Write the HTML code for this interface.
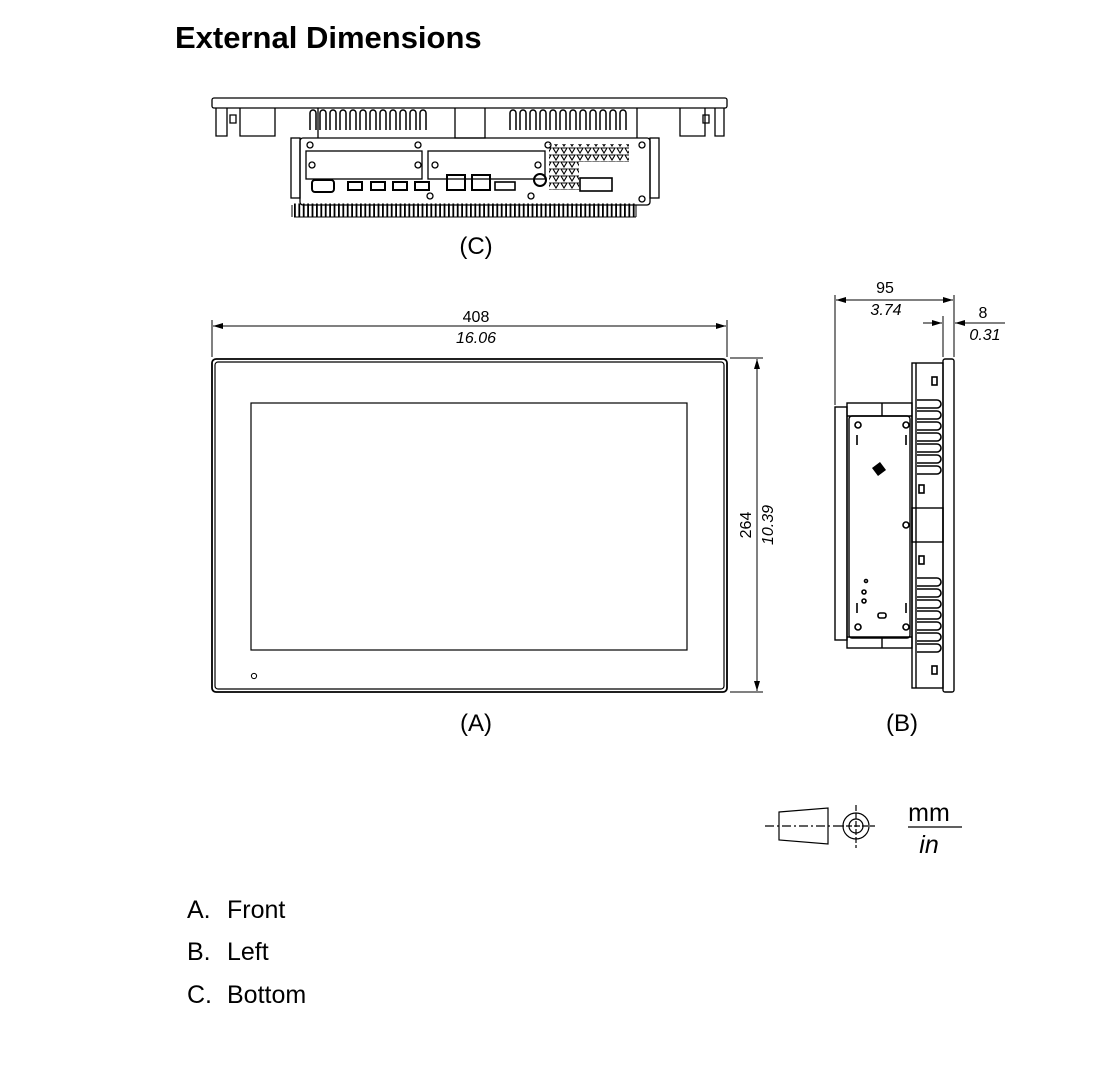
<!DOCTYPE html>
<html><head><meta charset="utf-8"><style>
body{margin:0;background:#fff;}
svg{display:block;font-family:"Liberation Sans",Arial,sans-serif;}
</style></head><body>
<svg width="1100" height="1076" viewBox="0 0 1100 1076" xmlns="http://www.w3.org/2000/svg">
<defs>
<marker id="ar" viewBox="0 0 10 6" refX="10" refY="3" markerWidth="10" markerHeight="6" orient="auto-start-reverse" markerUnits="userSpaceOnUse"><path d="M0,0 L10,3 L0,6 z" fill="#000"/></marker>
<pattern id="tri" width="8" height="7" patternUnits="userSpaceOnUse"><path d="M1,1 L7,1 L4,6 Z" fill="none" stroke="#000" stroke-width="1.1"/></pattern>
</defs>
<text x="175" y="48" font-size="31" font-weight="bold">External Dimensions</text>

<!-- (C) bottom view -->
<g fill="none" stroke="#000" stroke-width="1.3">
<rect x="212" y="98" width="515" height="10" rx="2"/>
<path d="M216,108 V136 H227 V108 M240,108 V136 H275 V108 M318,108 V138 M455,108 V138 H485 V108 M637,108 V138 M680,108 V136 H705 V108 M715,108 V136 H724 V108"/>
<path d="M230,115 h6 v8 h-6z M703,115 h6 v8 h-6z"/>
<rect x="300" y="138" width="350" height="67" rx="3"/>
<rect x="306" y="151" width="116" height="28"/>
<rect x="428" y="151" width="117" height="28"/>
<rect x="291" y="138" width="9" height="60"/>
<rect x="650" y="138" width="9" height="60"/>
<rect x="312" y="180" width="22" height="12" rx="3" stroke-width="2"/>
<rect x="348" y="182" width="14" height="8" stroke-width="2"/><rect x="371" y="182" width="14" height="8" stroke-width="2"/>
<rect x="393" y="182" width="14" height="8" stroke-width="2"/><rect x="415" y="182" width="14" height="8" stroke-width="2"/>
<rect x="447" y="175" width="18" height="15" stroke-width="2"/><rect x="472" y="175" width="18" height="15" stroke-width="2"/>
<rect x="495" y="182" width="20" height="8" stroke-width="1.6"/>
<circle cx="540" cy="180" r="6" stroke-width="2"/>
<rect x="580" y="178" width="32" height="13" stroke-width="1.6"/>
</g>
<rect x="549" y="144" width="80" height="18" fill="url(#tri)"/>
<rect x="549" y="162" width="30" height="28" fill="url(#tri)"/>
<g stroke="#000" stroke-width="1.5" fill="none">
<path d="M310,130 v-17 a3,3 0 0 1 6,0 v17 M320,130 v-17 a3,3 0 0 1 6,0 v17 M330,130 v-17 a3,3 0 0 1 6,0 v17 M340,130 v-17 a3,3 0 0 1 6,0 v17 M350,130 v-17 a3,3 0 0 1 6,0 v17 M360,130 v-17 a3,3 0 0 1 6,0 v17 M370,130 v-17 a3,3 0 0 1 6,0 v17 M380,130 v-17 a3,3 0 0 1 6,0 v17 M390,130 v-17 a3,3 0 0 1 6,0 v17 M400,130 v-17 a3,3 0 0 1 6,0 v17 M410,130 v-17 a3,3 0 0 1 6,0 v17 M420,130 v-17 a3,3 0 0 1 6,0 v17"/>
<path d="M510,130 v-17 a3,3 0 0 1 6,0 v17 M520,130 v-17 a3,3 0 0 1 6,0 v17 M530,130 v-17 a3,3 0 0 1 6,0 v17 M540,130 v-17 a3,3 0 0 1 6,0 v17 M550,130 v-17 a3,3 0 0 1 6,0 v17 M560,130 v-17 a3,3 0 0 1 6,0 v17 M570,130 v-17 a3,3 0 0 1 6,0 v17 M580,130 v-17 a3,3 0 0 1 6,0 v17 M590,130 v-17 a3,3 0 0 1 6,0 v17 M600,130 v-17 a3,3 0 0 1 6,0 v17 M610,130 v-17 a3,3 0 0 1 6,0 v17 M620,130 v-17 a3,3 0 0 1 6,0 v17"/>
</g>
<path d="M292,205 v12 M636,205 v12" stroke="#000"/>
<path d="M294,210 H636" stroke="#000" stroke-width="13" stroke-dasharray="1.8,2.6" fill="none"/>
<path d="M294,217 H636" stroke="#000" stroke-width="1"/>
<g fill="none" stroke="#000" stroke-width="1.3"><circle cx="310" cy="145" r="3"/><circle cx="418" cy="145" r="3"/><circle cx="435" cy="165" r="3"/><circle cx="538" cy="165" r="3"/><circle cx="418" cy="165" r="3"/><circle cx="312" cy="165" r="3"/><circle cx="642" cy="199" r="3"/><circle cx="430" cy="196" r="3"/><circle cx="531" cy="196" r="3"/><circle cx="548" cy="145" r="3"/><circle cx="642" cy="145" r="3"/></g>
<text x="476" y="254" font-size="24" text-anchor="middle">(C)</text>

<!-- (A) front -->
<g stroke="#000" stroke-width="1" fill="none">
<line x1="212" y1="320" x2="212" y2="357"/>
<line x1="727" y1="320" x2="727" y2="357"/>
<line x1="213" y1="326" x2="726" y2="326" marker-start="url(#ar)" marker-end="url(#ar)"/>
<line x1="730" y1="358" x2="763" y2="358"/>
<line x1="730" y1="692" x2="763" y2="692"/>
<line x1="757" y1="359" x2="757" y2="691" marker-start="url(#ar)" marker-end="url(#ar)"/>
</g>
<rect x="212" y="359" width="515" height="333" rx="4" fill="none" stroke="#000" stroke-width="1.8"/>
<rect x="215" y="362" width="509" height="327" rx="3" fill="none" stroke="#000" stroke-width="1.2"/>
<rect x="251" y="403" width="436" height="247" fill="none" stroke="#000" stroke-width="1.2"/>
<circle cx="254" cy="676" r="2.6" fill="none" stroke="#000"/>
<text x="476" y="322" font-size="16" text-anchor="middle">408</text>
<text x="476" y="343" font-size="16" font-style="italic" text-anchor="middle">16.06</text>
<text transform="translate(751,525) rotate(-90)" font-size="16" text-anchor="middle">264</text>
<text transform="translate(773,525) rotate(-90)" font-size="16" font-style="italic" text-anchor="middle">10.39</text>
<text x="476" y="731" font-size="24" text-anchor="middle">(A)</text>

<!-- (B) side -->
<g stroke="#000" stroke-width="1" fill="none">
<line x1="835" y1="295" x2="835" y2="405"/>
<line x1="954" y1="295" x2="954" y2="357"/>
<line x1="943" y1="316" x2="943" y2="357"/>
<line x1="836" y1="300" x2="953" y2="300" marker-start="url(#ar)" marker-end="url(#ar)"/>
<line x1="923" y1="323" x2="942" y2="323" marker-end="url(#ar)"/>
<line x1="1005" y1="323" x2="955" y2="323" marker-end="url(#ar)"/>
</g>
<text x="885" y="293" font-size="16" text-anchor="middle">95</text>
<text x="886" y="315" font-size="16" font-style="italic" text-anchor="middle">3.74</text>
<text x="983" y="318" font-size="16" text-anchor="middle">8</text>
<text x="985" y="340" font-size="16" font-style="italic" text-anchor="middle">0.31</text>
<g stroke="#000" fill="none" stroke-width="1.4">
<rect x="943" y="359" width="11" height="333" rx="2"/>
<rect x="912" y="363" width="31" height="325"/>
<path d="M916,363 V688"/>
<rect x="847" y="403" width="65" height="245"/>
<path d="M847,416 H912 M847,637 H912 M882,403 V416 M882,637 V648"/>
<rect x="849" y="416" width="61" height="222" rx="3"/>
<rect x="835" y="407" width="12" height="233"/>
<rect x="912" y="508" width="31" height="34"/>
</g>
<g fill="none" stroke="#000" stroke-width="1.6">
<circle cx="858" cy="425" r="3"/><circle cx="906" cy="425" r="3"/><circle cx="906" cy="525" r="3"/><circle cx="858" cy="627" r="3"/><circle cx="906" cy="627" r="3"/>
<circle cx="866" cy="581" r="1.5"/><circle cx="864" cy="592" r="2"/><circle cx="864" cy="601" r="2"/>
<rect x="878" y="613" width="8" height="5" rx="2"/>
</g>
<g stroke="#000" stroke-width="1.6" fill="none">
<path d="M917,400 h20 a4,4 0 0 1 0,8 h-20 M917,411 h20 a4,4 0 0 1 0,8 h-20 M917,422 h20 a4,4 0 0 1 0,8 h-20 M917,433 h20 a4,4 0 0 1 0,8 h-20 M917,444 h20 a4,4 0 0 1 0,8 h-20 M917,455 h20 a4,4 0 0 1 0,8 h-20 M917,466 h20 a4,4 0 0 1 0,8 h-20"/>
<path d="M917,578 h20 a4,4 0 0 1 0,8 h-20 M917,589 h20 a4,4 0 0 1 0,8 h-20 M917,600 h20 a4,4 0 0 1 0,8 h-20 M917,611 h20 a4,4 0 0 1 0,8 h-20 M917,622 h20 a4,4 0 0 1 0,8 h-20 M917,633 h20 a4,4 0 0 1 0,8 h-20 M917,644 h20 a4,4 0 0 1 0,8 h-20"/>
<rect x="932" y="377" width="5" height="8"/><rect x="932" y="666" width="5" height="8"/>
<rect x="919" y="485" width="5" height="8"/><rect x="919" y="556" width="5" height="8"/>
<path d="M857,435 v10 M906,435 v10 M857,603 v10 M906,603 v10"/>
</g>
<path d="M872,468 l8,-6 l6,8 l-8,6z" fill="#000"/>
<text x="902" y="731" font-size="24" text-anchor="middle">(B)</text>

<!-- legend symbol -->
<g stroke="#000" stroke-width="1.2" fill="none">
<path d="M779,812 L828,808 V844 L779,840 Z"/>
<line x1="765" y1="826" x2="838" y2="826" stroke-dasharray="9,3,2,3"/>
<circle cx="856" cy="826" r="13"/><circle cx="856" cy="826" r="7"/>
<line x1="838" y1="826" x2="875" y2="826" stroke-dasharray="6,2"/>
<line x1="856" y1="805" x2="856" y2="848" stroke-dasharray="6,2"/>
<line x1="908" y1="827" x2="962" y2="827"/>
</g>
<text x="929" y="821" font-size="25" text-anchor="middle">mm</text>
<text x="929" y="853" font-size="25" font-style="italic" text-anchor="middle">in</text>

<text x="187" y="918" font-size="25">A.</text><text x="227" y="918" font-size="25">Front</text>
<text x="187" y="960" font-size="25">B.</text><text x="227" y="960" font-size="25">Left</text>
<text x="187" y="1003" font-size="25">C.</text><text x="227" y="1003" font-size="25">Bottom</text>
</svg>
</body></html>
